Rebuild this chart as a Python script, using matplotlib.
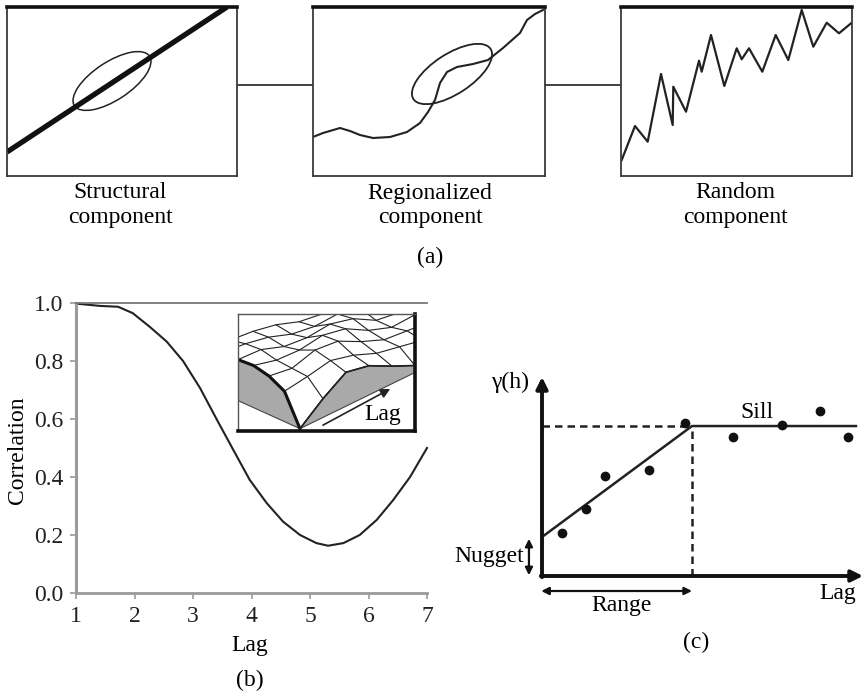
import matplotlib
matplotlib.use("Agg")
import matplotlib.pyplot as plt
from matplotlib.patches import Ellipse, Polygon
import numpy as np

W, H = 863, 692
plt.rcParams['font.family'] = ['Liberation Serif', 'DejaVu Serif']
FS = 17

# ---------------- (a) components of a spatial signal ----------------
TREND_X = [0, 220]
TREND_Y = [24, 169]
REGIONAL_X = [0, 10, 27, 37, 47, 60, 77, 94, 107, 115, 122, 127, 134, 144, 160,
              175, 190, 207, 214, 222, 230]
REGIONAL_Y = [39, 43, 48, 45, 41, 38, 39, 44, 53, 64, 76, 93, 104, 109, 112,
              116, 128, 143, 156, 162, 166]
RANDOM_X = [0.7, 14, 26.7, 40, 51.7, 52.3, 65, 78, 80.7, 90, 103.3, 115.7, 120.7,
            128, 141.3, 154.7, 167.3, 180.7, 192.3, 205.7, 218, 230]
RANDOM_Y = [16, 50, 34.3, 102, 51, 89.3, 64.3, 115.3, 104.3, 141, 90, 127.7, 116.7,
            127.7, 104.3, 141, 116, 166, 129.3, 153.3, 142.7, 152.7]
COMPONENT_NAMES = ["Structural", "Regionalized", "Random"]

# ---------------- (b) correlogram ----------------
LAG = [1.0, 1.41, 1.72, 1.97, 2.26, 2.55, 2.83, 3.12, 3.41, 3.69, 3.97, 4.26,
       4.54, 4.83, 5.11, 5.31, 5.57, 5.85, 6.14, 6.42, 6.71, 7.0]
CORRELATION = [0.998, 0.99, 0.987, 0.965, 0.918, 0.867, 0.80, 0.707, 0.597, 0.493,
               0.39, 0.31, 0.246, 0.20, 0.172, 0.163, 0.172, 0.20, 0.252, 0.32,
               0.40, 0.50]
X_TICKS = [1, 2, 3, 4, 5, 6, 7]
Y_TICKS = [0.0, 0.2, 0.4, 0.6, 0.8, 1.0]

# heights of the sketched correlation surface shown in the inset
SURFACE_HEIGHT = [
    [0.00, 0.16, 0.29, 0.25, 0.15, 0.06, 0.05, 0.06],
    [0.26, 0.29, 0.33, 0.28, 0.20, 0.16, 0.12, 0.08],
    [0.33, 0.30, 0.36, 0.34, 0.24, 0.16, 0.14, 0.12],
    [0.36, 0.31, 0.30, 0.33, 0.29, 0.18, 0.11, 0.12],
    [0.35, 0.34, 0.27, 0.25, 0.27, 0.22, 0.11, 0.08],
    [0.35, 0.33, 0.29, 0.22, 0.19, 0.20, 0.15, 0.07],
    [0.36, 0.30, 0.28, 0.24, 0.17, 0.14, 0.14, 0.10],
]

# ---------------- (c) semivariogram ----------------
SEMI_LAG = [0.13, 0.29, 0.42, 0.71, 0.95, 1.27, 1.6, 1.85, 2.04]
SEMI_GAMMA = [0.29, 0.45, 0.67, 0.71, 1.02, 0.93, 1.01, 1.10, 0.93]
NUGGET = 0.26
SILL = 1.0
RANGE = 1.0
SILL_END = 2.093

fig = plt.figure(figsize=(W / 100, H / 100), dpi=100)


def px_axes(x0, y0, x1, y1, **kw):
    return fig.add_axes([x0 / W, 1 - y1 / H, (x1 - x0) / W, (y1 - y0) / H], **kw)


# overlay in pixel units for connectors and captions
ov = px_axes(0, 0, W, H)
ov.set_xlim(0, W)
ov.set_ylim(H, 0)
ov.axis('off')

# ---- (a) boxes ----
boxes = [(7, 7, 237, 176), (313, 7, 545, 176), (621, 7, 852, 176)]
box_axes = []
for (x0, y0, x1, y1) in boxes:
    a = px_axes(x0, y0, x1, y1)
    a.set_xlim(0, x1 - x0)
    a.set_ylim(0, y1 - y0)
    a.set_xticks([])
    a.set_yticks([])
    for s in ['left', 'right', 'bottom']:
        a.spines[s].set_color('#3a3a3a')
        a.spines[s].set_linewidth(1.3)
    a.spines['top'].set_color('#111111')
    a.spines['top'].set_linewidth(2.6)
    box_axes.append(a)

a1, a2, a3 = box_axes
a1.plot(TREND_X, TREND_Y, color='#111111', lw=3.8, solid_capstyle='butt')
a1.add_patch(Ellipse((105, 95), 90, 38, angle=33.4, fill=False,
                     edgecolor='#222222', lw=1.1))
a2.plot(REGIONAL_X, REGIONAL_Y, color='#222222', lw=1.5)
a2.add_patch(Ellipse((139, 102), 92, 40, angle=33, fill=False,
                     edgecolor='#222222', lw=1.3))
a3.plot(RANDOM_X, RANDOM_Y, color='#222222', lw=1.6)

ov.plot([138, 313], [85, 85], color='#333333', lw=1.3)
ov.plot([472, 621], [85, 85], color='#333333', lw=1.3)

for cx, name in zip([120, 430, 735], COMPONENT_NAMES):
    ov.text(cx, 193, name, ha='center', va='center', fontsize=FS)
    ov.text(cx, 218, "component", ha='center', va='center', fontsize=FS)
ov.text(430, 257, "(a)", ha='center', va='center', fontsize=FS)

# ---- (b) correlogram ----
ab = px_axes(76, 303, 427, 593)
ab.plot(LAG, CORRELATION, color='#222222', lw=1.5, clip_on=False)
ab.set_xlim(1, 7)
ab.set_ylim(0, 1)
ab.set_xticks(X_TICKS)
ab.set_yticks(Y_TICKS)
ab.set_yticklabels([f"{v:.1f}" for v in Y_TICKS])
ab.tick_params(axis='both', direction='out', length=4, width=1.2,
               colors='#999999', labelcolor='#222222', labelsize=FS, pad=5)
ab.spines['right'].set_visible(False)
ab.spines['left'].set_color('#9a9a9a')
ab.spines['left'].set_linewidth(2.2)
ab.spines['bottom'].set_color('#9a9a9a')
ab.spines['bottom'].set_linewidth(2.0)
ab.spines['top'].set_color('#777777')
ab.spines['top'].set_linewidth(1.3)
ov.text(18, 450, "Correlation", rotation=90, ha='center', va='center',
        fontsize=FS)
ov.text(250, 646, "Lag", ha='center', va='center', fontsize=FS)
ov.text(250, 680, "(b)", ha='center', va='center', fontsize=FS)

# inset: oblique sketch of a correlation surface over a block
ai = px_axes(238, 314, 415, 431)
ai.set_xlim(0, 1)
ai.set_ylim(0, 1)
ai.set_xticks([])
ai.set_yticks([])
for s in ['top', 'left']:
    ai.spines[s].set_color('#555555')
    ai.spines[s].set_linewidth(1.0)
for s in ['right', 'bottom']:
    ai.spines[s].set_color('#111111')
    ai.spines[s].set_linewidth(2.6)

corner = np.array([0.35, 0.02])
di = np.array([-0.35 / 4, 0.24 / 4])
dj = np.array([0.65 / 5, 0.48 / 5])
Hs = np.array(SURFACE_HEIGHT)
I, J = np.meshgrid(np.arange(Hs.shape[0]), np.arange(Hs.shape[1]), indexing='ij')
BU = corner[0] + I * di[0] + J * dj[0]
BV = corner[1] + I * di[1] + J * dj[1]
U = BU
V = BV + Hs

left_wall = np.column_stack([np.r_[U[:, 0], BU[::-1, 0]], np.r_[V[:, 0], BV[::-1, 0]]])
right_wall = np.column_stack([np.r_[U[0, :], BU[0, ::-1]], np.r_[V[0, :], BV[0, ::-1]]])
for poly in (left_wall, right_wall):
    ai.add_patch(Polygon(poly, closed=True, facecolor='#a9a9a9',
                         edgecolor='#444444', lw=0.8))
for i in range(Hs.shape[0]):
    ai.plot(U[i, :], V[i, :], color='#222222', lw=0.8)
for j in range(Hs.shape[1]):
    ai.plot(U[:, j], V[:, j], color='#222222', lw=0.8)
ai.plot(U[:, 0], V[:, 0], color='#111111', lw=2.2)
ai.plot(U[0, :], V[0, :], color='#222222', lw=1.2)
ai.annotate("", xy=(0.86, 0.36), xytext=(0.48, 0.05),
            arrowprops=dict(arrowstyle='-|>', color='#222222', lw=1.2,
                            mutation_scale=14, shrinkA=0, shrinkB=0))
ai.text(0.82, 0.14, "Lag", ha='center', va='center', fontsize=FS)

# ---- (c) semivariogram ----
ac = px_axes(542, 377, 863, 576)
ac.set_xlim(0, 2.14)
ac.set_ylim(0, 1.327)
ac.axis('off')
arrow_kw = dict(arrowstyle='-|>', color='#111111', lw=2.8, mutation_scale=17,
                shrinkA=0, shrinkB=0)
ac.annotate("", xy=(2.14, 0), xytext=(-0.008, 0), arrowprops=arrow_kw,
            annotation_clip=False)
ac.annotate("", xy=(0, 1.327), xytext=(0, -0.008), arrowprops=arrow_kw,
            annotation_clip=False)
ac.plot([0, RANGE], [SILL, SILL], color='#222222', lw=1.8, linestyle=(0, (3, 2)))
ac.plot([RANGE, RANGE], [0, SILL], color='#222222', lw=1.8, linestyle=(0, (3, 2)))
ac.plot([0, RANGE, SILL_END], [NUGGET, SILL, SILL], color='#222222', lw=1.8)
ac.scatter(SEMI_LAG, SEMI_GAMMA, s=36, color='#111111', zorder=5)
dbl = dict(arrowstyle='<|-|>', color='#111111', lw=1.6, mutation_scale=11,
           shrinkA=0, shrinkB=0)
ac.annotate("", xy=(-0.087, 0.005), xytext=(-0.087, NUGGET - 0.012),
            arrowprops=dbl, annotation_clip=False)
ac.annotate("", xy=(-0.005, -0.1), xytext=(RANGE, -0.1),
            arrowprops=dbl, annotation_clip=False)
ac.text(-0.085, 1.29, "γ(h)", ha='right', va='center', fontsize=FS)
ac.text(1.43, 1.09, "Sill", ha='center', va='center', fontsize=FS)
ac.text(-0.12, 0.127, "Nugget", ha='right', va='center', fontsize=FS)
ac.text(0.533, -0.195, "Range", ha='center', va='center', fontsize=FS)
ac.text(1.97, -0.115, "Lag", ha='center', va='center', fontsize=FS)
ac.text(1.03, -0.44, "(c)", ha='center', va='center', fontsize=FS)

fig.savefig("out.png", dpi=100)
